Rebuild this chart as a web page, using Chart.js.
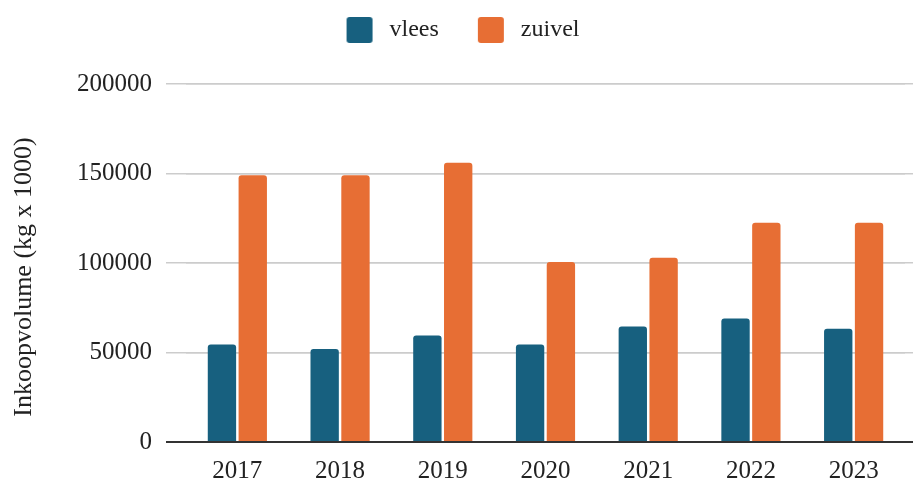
<!DOCTYPE html>
<html>
<head>
<meta charset="utf-8">
<script src="https://cdn.jsdelivr.net/npm/chart.js@4.4.1/dist/chart.umd.min.js"></script>
<style>
 html, body { margin: 0; padding: 0; background: #fff; }
 #wrap { width: 913px; height: 483px; }
</style>
</head>
<body>
<div id="wrap"><canvas id="barChart"></canvas></div>
<script>
const years = ['2017', '2018', '2019', '2020', '2021', '2022', '2023'];
const vlees = [54500, 52000, 59500, 54500, 64500, 69000, 63200];
const zuivel = [149000, 149000, 156000, 100500, 103000, 122500, 122500];
const yTicks = [0, 50000, 100000, 150000, 200000];
const yTitle = 'Inkoopvolume (kg x 1000)';

const serif = 'Liberation Serif, Times New Roman, serif';
const blue = '#17607f';
const orange = '#e76e34';

// legend swatch: 26px rounded square with blank room left of it, so the text sits further away
function swatch(color) {
 const c = document.createElement('canvas');
 c.width = 56;
 c.height = 26;
 const g = c.getContext('2d');
 g.fillStyle = color;
 g.beginPath();
 g.roundRect(25, 0, 26, 26, 3);
 g.fill();
 return c;
}

// extra room under the legend, and nudge it a little to the left
const legendMargin = {
 id: 'legendMargin',
 beforeInit(chart) {
  const fit = chart.legend.fit;
  chart.legend.fit = function () {
   fit.bind(chart.legend)();
   this.height += 32;
  };
 },
 afterLayout(chart) {
  chart.legend.left -= 10;
  chart.legend.right -= 10;
 }
};

// y title drawn by hand so it can sit a bit lower than the plot centre
const yTitlePlugin = {
 id: 'yTitle',
 afterDraw(chart) {
  const g = chart.ctx;
  g.save();
  g.translate(24, 277);
  g.rotate(-Math.PI / 2);
  g.font = '26px ' + serif;
  g.fillStyle = '#222';
  g.textAlign = 'center';
  g.textBaseline = 'middle';
  g.fillText(yTitle, 0, 0);
  g.restore();
 }
};

const gridColor = c => (c.tick && c.tick.value === 0 ? '#333' : '#cccccc');
const gridWidth = c => (c.tick && c.tick.value === 0 ? 2 : 1.5);

const ctx = document.getElementById('barChart').getContext('2d');
new Chart(ctx, {
 type: 'bar',
 data: {
  labels: years,
  datasets: [
   { label: 'vlees', data: vlees, backgroundColor: blue, borderRadius: 3, borderSkipped: 'bottom' },
   { label: 'zuivel', data: zuivel, backgroundColor: orange, borderRadius: 3, borderSkipped: 'bottom' }
  ]
 },
 options: {
  responsive: true,
  maintainAspectRatio: false,
  animation: false,
  layout: { padding: { top: 4, right: 0, left: 8, bottom: 0 } },
  datasets: { bar: { categoryPercentage: 0.6, barPercentage: 0.92 } },
  plugins: {
   legend: {
    position: 'top',
    labels: {
     usePointStyle: true,
     pointStyleWidth: 56,
     boxHeight: 26,
     padding: 14,
     color: '#222',
     font: { family: serif, size: 24 },
     generateLabels(chart) {
      const items = Chart.defaults.plugins.legend.labels.generateLabels(chart);
      items.forEach((it, i) => { it.pointStyle = swatch(i === 0 ? blue : orange); });
      return items;
     }
    }
   },
   tooltip: { enabled: false }
  },
  scales: {
   x: {
    grid: { display: false, drawTicks: false },
    border: { display: false },
    ticks: { color: '#222', padding: 14, font: { family: serif, size: 25 } },
    afterFit(scale) { scale.height = 41; }
   },
   y: {
    min: 0,
    max: 200000,
    afterBuildTicks(scale) { scale.ticks = yTicks.map(v => ({ value: v })); },
    grid: { color: gridColor, lineWidth: gridWidth, tickLength: 20 },
    border: { display: false },
    ticks: {
     color: '#222',
     padding: 14,
     font: { family: serif, size: 25 },
     callback: v => String(v)
    },
    afterFit(scale) { scale.width = 178; }
   },
   // only there so the gridlines run on to the right edge
   yRight: {
    position: 'right',
    min: 0,
    max: 200000,
    afterBuildTicks(scale) { scale.ticks = yTicks.map(v => ({ value: v })); },
    grid: { color: gridColor, lineWidth: gridWidth, tickLength: 8 },
    border: { display: false },
    ticks: { display: false },
    afterFit(scale) { scale.width = 8; }
   }
  }
 },
 plugins: [legendMargin, yTitlePlugin]
});
</script>
</body>
</html>
